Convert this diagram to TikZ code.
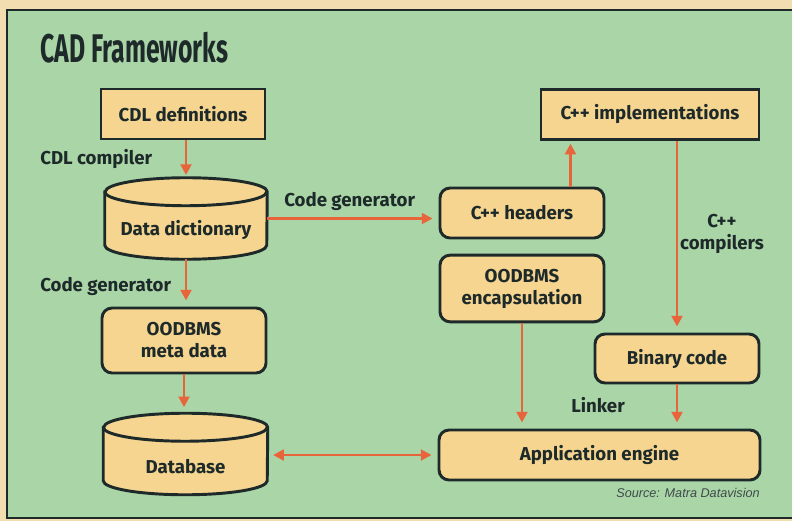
\documentclass[tikz,border=0pt]{standalone}
\usepackage{fontspec}
\setmainfont{Fira Sans}
\newfontfamily\boxfont{Fira Sans}
\newfontfamily\titlefont{Fira Sans}[FakeStretch=0.62]
\newfontfamily\srcfont{Liberation Sans}
\usetikzlibrary{arrows.meta}

\definecolor{paper}{HTML}{F2DDB0}
\definecolor{panel}{HTML}{A9D5A7}
\definecolor{boxfill}{HTML}{F5D590}
\definecolor{ink}{HTML}{1E2A2A}
\definecolor{flowc}{HTML}{E8653C}

\begin{document}
\begin{tikzpicture}[x=0.75pt,y=-0.75pt,
    sqbox/.style={draw=ink, line width=2.2pt, fill=boxfill, text=ink,
        minimum width=123pt, minimum height=37.5pt, inner sep=0pt, align=center,
        font=\boxfont\bfseries\fontsize{14}{16.5}\selectfont},
    rbox/.style={sqbox, rounded corners=7.5pt},
    cylbox/.style={minimum width=#1, minimum height=60.75pt, inner sep=0pt},
    cylline/.style={draw=ink, line width=2.2pt, fill=boxfill},
    lbl/.style={text=ink, inner sep=0pt, font=\boxfont\bfseries\fontsize{14}{16.5}\selectfont},
    flow/.style={draw=flowc, line width=2.2pt, -{Triangle[length=8pt,width=8pt]}, shorten >=4.5pt},
    both/.style={flow, {Triangle[length=8pt,width=8pt]}-{Triangle[length=8pt,width=8pt]}, shorten <=4pt}]
    \useasboundingbox (0,0) rectangle (792,521);
    \fill [paper] (0,0) rectangle (792,521);
    \fill [panel] (7,10) rectangle (792,518);
    \draw [ink, line width=1.5pt] (792,10) -- (7,10) -- (7,518) -- (792,518);

    % title
    \node [anchor=base west, text=ink, inner sep=0pt,
        font=\titlefont\bfseries\fontsize{30}{30}\selectfont] (title) at (40,62) {CAD Frameworks};

    % left column
    \node [sqbox] (cdl) at (183,114) {CDL definitions};
    \node [cylbox=121.5pt] (dict) at (186,218.5) {};
    \draw [cylline] ([yshift=-10.5pt]dict.north west) -- ([yshift=10.5pt]dict.south west)
        arc [start angle=180, end angle=360, x radius=60.75pt, y radius=10.5pt]
        -- ([yshift=-10.5pt]dict.north east)
        arc [start angle=0, end angle=180, x radius=60.75pt, y radius=10.5pt] -- cycle;
    \draw [cylline, fill=none] ([yshift=-10.5pt]dict.north west)
        arc [start angle=180, end angle=360, x radius=60.75pt, y radius=10.5pt];
    \node [lbl] (dicttext) at (186,230) {Data dictionary};
    \node [rbox, minimum height=48.75pt] (meta) at (184,340.5) {OODBMS\\meta data};
    \node [cylbox=123pt] (db) at (185.5,454) {};
    \draw [cylline] ([yshift=-10.5pt]db.north west) -- ([yshift=10.5pt]db.south west)
        arc [start angle=180, end angle=360, x radius=61.5pt, y radius=10.5pt]
        -- ([yshift=-10.5pt]db.north east)
        arc [start angle=0, end angle=180, x radius=61.5pt, y radius=10.5pt] -- cycle;
    \draw [cylline, fill=none] ([yshift=-10.5pt]db.north west)
        arc [start angle=180, end angle=360, x radius=61.5pt, y radius=10.5pt];
    \node [lbl] (dbtext) at (185.5,467) {Database};

    % right part
    \node [sqbox, minimum width=163.5pt] (impl) at (650,114.5) {C++ implementations};
    \node [rbox] (headers) at (522,213) {C++ headers};
    \node [rbox, minimum height=50pt] (encap) at (522,288.5) {OODBMS\\encapsulation};
    \node [rbox, minimum height=36.75pt] (binary) at (677,358.5) {Binary code};
    \node [rbox, minimum width=240.75pt] (app) at (599.5,455) {Application engine};

    % labels
    \node [lbl, anchor=base west] (cdlc) at (40,164) {CDL compiler};
    \node [lbl, anchor=base west] (gentop) at (284,206) {Code generator};
    \node [lbl, anchor=base west] (genleft) at (40,291) {Code generator};
    \node [lbl, align=center] (cppc) at (722,234) {C++\\compilers};
    \node [lbl] (linker) at (598,405) {Linker};
    \node [anchor=base east, text=ink!85, inner sep=0pt,
        font=\srcfont\itshape\fontsize{9.5}{11}\selectfont] (source) at (760,497) {Source: Matra Datavision};

    % connectors
    \draw [flow, shorten >=2pt] (cdl.south -| dict.north) -- (dict.north);
    \draw [flow] (dict.east) -- (dict.east -| headers.west);
    \draw [flow, shorten >=2pt] ([xshift=-26.25pt]headers.north east) -- ([xshift=-26.25pt]headers.north east |- impl.south);
    \draw [flow] (binary.north |- impl.south) -- (binary.north);
    \draw [flow] (dict.south) -- (dict.south |- meta.north);
    \draw [flow] (meta.south) -- (meta.south |- db.north);
    \draw [flow] (encap.south) -- (encap.south |- app.north);
    \draw [flow] (binary.south) -- (binary.south |- app.north);
    \draw [both] (app.west -| db.east) -- (app.west);
\end{tikzpicture}
\end{document}
